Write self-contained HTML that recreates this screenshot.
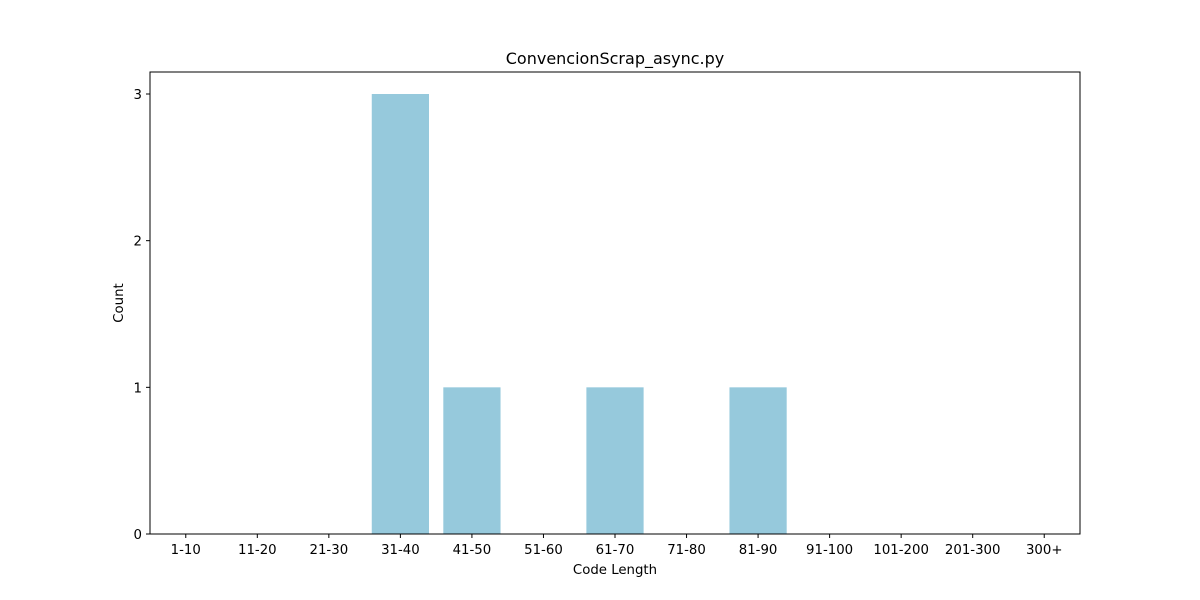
<!DOCTYPE html>
<html><head><meta charset="utf-8"><style>
body{margin:0;background:#fff;}
svg{display:block;font-family:"DejaVu Sans","Liberation Sans",sans-serif;}
</style></head><body>
<svg id="chart" width="1200" height="600"></svg>
<script>
const categories=["1-10","11-20","21-30","31-40","41-50","51-60","61-70","71-80","81-90","91-100","101-200","201-300","300+"];
const counts=[0,0,0,3,1,0,1,0,1,0,0,0,0];
const yTicks=[0,1,2,3];
const L=150,R=1080,T=72,B=534,yMax=3.15;
const xs=i=>L+(i+0.5)*(R-L)/categories.length;
const ys=v=>B-v*(B-T)/yMax;
const unit=(R-L)/categories.length;
const svg=document.getElementById('chart');
const NS='http://www.w3.org/2000/svg';
function mk(tag,attrs,parent){const e=document.createElementNS(NS,tag);for(const k in attrs)e.setAttribute(k,attrs[k]);(parent||svg).appendChild(e);return e;}
const bars=mk('g',{});


counts.forEach((v,i)=>{
 if(v<=0)return;
 const r=mk('rect',{x:xs(i)-0.4*unit,y:ys(v),width:0.8*unit,height:B-ys(v),fill:'#96c9dc'},bars);
 
 
});
const frame=mk('rect',{x:L,y:T,width:R-L,height:B-T,fill:'none',stroke:'#000','stroke-width':1});


categories.forEach((c,i)=>{
 mk('line',{x1:xs(i),x2:xs(i),y1:B,y2:B+4,stroke:'#000'});
 const t=mk('text',{x:xs(i),y:B+20,'text-anchor':'middle','font-size':13.3});
 t.textContent=c;
 
 
});
yTicks.forEach(v=>{
 mk('line',{x1:L-4,x2:L,y1:ys(v),y2:ys(v),stroke:'#000'});
 const t=mk('text',{x:L-8,y:ys(v)+5,'text-anchor':'end','font-size':13.3});
 t.textContent=v;
 
 
});
const title=mk('text',{x:(L+R)/2,y:64,'text-anchor':'middle','font-size':16});
title.textContent='ConvencionScrap_async.py';


const xt=mk('text',{x:(L+R)/2,y:574,'text-anchor':'middle','font-size':13.3});
xt.textContent='Code Length';


const yt=mk('text',{x:123,y:(T+B)/2,'text-anchor':'middle','font-size':13.3,transform:'rotate(-90 123 '+((T+B)/2)+')'});
yt.textContent='Count';


</script>
</body></html>
